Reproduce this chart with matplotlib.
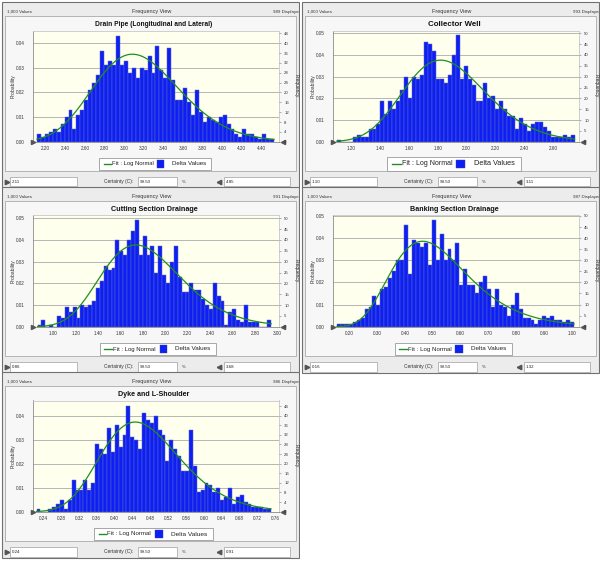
import numpy as np
import matplotlib
matplotlib.use('Agg')
import matplotlib.pyplot as plt
from matplotlib.patches import Rectangle

plt.rcParams['font.family'] = ['Liberation Sans', 'DejaVu Sans']

# ---------------- data ----------------
titles = ['Drain Pipe (Longitudinal and Lateral)', 'Collector Well',
          'Cutting Section Drainage', 'Banking Section Drainage',
          'Dyke and L-Shoulder']
displayed = [989, 993, 991, 987, 986]
trials = 1000
lower_cert = ['2.11', '1.10', '0.86', '0.16', '0.24']
upper_cert = ['4.85', '3.11', '3.68', '1.32', '0.91']
certainty = '99.50'

drain_counts = [3, 2, 3, 4, 5, 4, 7, 10, 13, 5, 11, 13, 17, 21, 24, 27, 37, 31, 33, 31,
                43, 31, 33, 28, 30, 26, 30, 29, 35, 28, 39, 29, 26, 38, 25, 17, 17, 22, 16, 11,
                21, 12, 8, 10, 9, 8, 10, 11, 7, 5, 3, 2, 5, 3, 3, 2, 1, 3, 1, 1]
collector_counts = [1, 0, 0, 0, 2, 3, 2, 2, 6, 6, 8, 19, 13, 19, 15, 19, 24, 30, 20, 30,
                    29, 31, 46, 45, 42, 29, 29, 27, 31, 40, 49, 29, 35, 29, 26, 19, 19, 27, 20, 21,
                    15, 19, 15, 12, 12, 6, 11, 8, 5, 8, 9, 9, 7, 5, 2, 2, 2, 3, 2, 3]
cutting_counts = [1, 3, 0, 1, 0, 5, 4, 9, 7, 9, 4, 10, 9, 10, 12, 18, 21, 28, 26, 27,
                  40, 35, 33, 40, 44, 49, 33, 42, 33, 37, 25, 37, 24, 20, 30, 37, 23, 16, 16, 20,
                  17, 17, 13, 10, 8, 20, 14, 12, 1, 7, 8, 3, 2, 10, 2, 2, 2, 0, 0, 3]
banking_counts = [1, 1, 1, 1, 2, 3, 4, 8, 9, 14, 10, 17, 18, 22, 25, 30, 30, 46, 24, 39,
                  38, 36, 38, 28, 48, 30, 42, 30, 35, 30, 38, 19, 26, 19, 19, 15, 20, 23, 17, 9,
                  17, 10, 9, 5, 10, 15, 8, 4, 4, 3, 1, 3, 5, 4, 5, 3, 3, 2, 3, 2]
dyke_counts = [1, 0, 0, 1, 2, 3, 5, 1, 5, 13, 9, 9, 13, 9, 12, 28, 26, 24, 35, 25,
               36, 27, 32, 44, 31, 30, 26, 41, 38, 37, 40, 34, 32, 21, 30, 26, 23, 17, 17, 34,
               19, 8, 9, 12, 11, 8, 10, 5, 6, 10, 3, 6, 7, 4, 3, 2, 2, 2, 1, 1]
counts_all = [drain_counts, collector_counts, cutting_counts, banking_counts, dyke_counts]

# histogram value ranges (first bin start, last bin end)
bin_low = [2.11, 1.10, 0.86, 0.155, 0.225]
bin_high = [4.53, 2.75, 2.945, 1.008, 0.750]

# axis ranges and ticks
x_min = [2.07, 1.073, 0.819, 0.141, 0.217]
x_max = [4.581, 2.781, 3.015, 1.026, 0.768]
x_ticks = [
    [2.20, 2.40, 2.60, 2.80, 3.00, 3.20, 3.40, 3.60, 3.80, 4.00, 4.20, 4.40],
    [1.20, 1.40, 1.60, 1.80, 2.00, 2.20, 2.40, 2.60],
    [1.00, 1.20, 1.40, 1.60, 1.80, 2.00, 2.20, 2.40, 2.60, 2.80, 3.00],
    [0.20, 0.30, 0.40, 0.50, 0.60, 0.70, 0.80, 0.90, 1.00],
    [0.24, 0.28, 0.32, 0.36, 0.40, 0.44, 0.48, 0.52, 0.56, 0.60, 0.64, 0.68, 0.72, 0.76],
]
prob_ticks = [
    [0.00, 0.01, 0.02, 0.03, 0.04],
    [0.00, 0.01, 0.02, 0.03, 0.04, 0.05],
    [0.00, 0.01, 0.02, 0.03, 0.04, 0.05],
    [0.00, 0.01, 0.02, 0.03, 0.04, 0.05],
    [0.00, 0.01, 0.02, 0.03, 0.04],
]
freq_ticks = [
    list(range(0, 45, 4)),
    list(range(0, 51, 5)),
    list(range(0, 51, 5)),
    list(range(0, 51, 5)),
    list(range(0, 45, 4)),
]
y_top = [0.0452, 0.0513, 0.0513, 0.0502, 0.0463]

# ---------------- layout ----------------
FW, FH = 600, 561
origins = [(0, 0), (300, 0), (0, 185), (300, 185), (0, 370)]
title_size = [4.8, 5.7, 5.2, 5.1, 5.1]
legend_scale = [1.0, 1.2, 1.04, 1.05, 1.06]
legend_cx = [155, 154, 158, 153.5, 153.5]

BAR_COLOR = '#0e1ff2'
BAR_EDGE = '#5b67c9'
FIT_COLOR = '#1f8f1f'
PLOT_BG = '#ffffee'


def frect(x, y, w, h):
    return [x / FW, 1 - (y + h) / FH, w / FW, h / FH]


fig = plt.figure(figsize=(FW / 100, FH / 100), dpi=100)
fig.patch.set_facecolor('white')

for k in range(5):
    ox, oy = origins[k]
    # ---- window background ----
    bg = fig.add_axes(frect(ox, oy, 300, 190))
    bg.set_xlim(0, 300)
    bg.set_ylim(190, 0)
    bg.set_axis_off()
    frame = Rectangle((1.5, 1.5), 297, 186.5, facecolor='#ececec',
                      edgecolor='#707070', lw=0.8)
    bg.add_patch(frame)
    bg.add_patch(Rectangle((5, 16), 291, 155, facecolor='#f7f7f7',
                           edgecolor='#aaaaaa', lw=0.6))
    bg.text(7, 11.5, '1,000 Values', fontsize=3.2, va='center', ha='left', color='#333333')
    bg.text(152, 11, 'Frequency View', fontsize=4.0, va='center', ha='center', color='#333333')
    t = bg.text(273, 11.5, f'{displayed[k]} Displayed', fontsize=3.2, va='center', ha='left',
                color='#333333', clip_on=True)
    t.set_clip_path(frame)
    bg.text(154, 24, titles[k], fontsize=title_size[k], fontweight='bold',
            ha='center', va='center', color='#111111')

    # legend
    s = legend_scale[k]
    cx, cy = legend_cx[k], 164
    lw_, lh_ = 112 * s, 11.7 * s
    bg.add_patch(Rectangle((cx - lw_ / 2, cy - lh_ / 2), lw_, lh_, facecolor='white',
                           edgecolor='#999999', lw=0.6))
    x0 = cx - lw_ / 2
    bg.plot([x0 + 4.5 * s, x0 + 11.5 * s], [cy, cy], color=FIT_COLOR, lw=1.0)
    bg.text(x0 + 12.5 * s, cy, 'Fit : Log Normal', fontsize=4.2 * s, va='center', ha='left',
            color='#222222')
    bg.add_patch(Rectangle((x0 + 57.5 * s, cy - 3.6 * s), 7.3 * s, 7.3 * s,
                           facecolor=BAR_COLOR, edgecolor='#3a45b0', lw=0.3))
    bg.text(x0 + 72.5 * s, cy, 'Delta Values', fontsize=4.4 * s, va='center', ha='left',
            color='#222222')

    # bottom row
    by = 181.7
    bg.plot(6.5, by, marker='>', ms=3.2, color='#555555')
    bg.add_patch(Rectangle((10, 177), 67, 9.5, facecolor='white', edgecolor='#a0a0a0', lw=0.5))
    bg.text(12, by, lower_cert[k], fontsize=3.2, va='center', ha='left', color='#222222')
    bg.text(119, by, 'Certainty (C):', fontsize=3.5, va='center', ha='center', color='#333333')
    bg.add_patch(Rectangle((138, 177), 39, 9.5, facecolor='white', edgecolor='#a0a0a0', lw=0.5))
    bg.text(140, by, certainty, fontsize=3.2, va='center', ha='left', color='#222222')
    bg.text(184, by, '%', fontsize=3.2, va='center', ha='center', color='#333333')
    bg.plot(218.5, by, marker='<', ms=3.2, color='#555555')
    bg.add_patch(Rectangle((224, 177), 66, 9.5, facecolor='white', edgecolor='#a0a0a0', lw=0.5))
    bg.text(226, by, upper_cert[k], fontsize=3.2, va='center', ha='left', color='#222222')
    # right grabber of chart
    bg.plot(282.5, 141.7, marker='<', ms=3.0, color='#555555', clip_on=False)

    # ---- chart ----
    ax = fig.add_axes(frect(ox + 33, oy + 30.5, 246, 111.2))
    ax.set_facecolor(PLOT_BG)
    counts = np.array(counts_all[k], dtype=float)
    edges = np.linspace(bin_low[k], bin_high[k], len(counts) + 1)
    centers = 0.5 * (edges[:-1] + edges[1:])
    bw = edges[1] - edges[0]
    probs = counts / trials
    ax.bar(centers, probs, width=bw, color=BAR_COLOR, edgecolor=BAR_EDGE,
           linewidth=0.35, zorder=2)

    # log-normal fit from the histogram
    lc = np.log(centers)
    mu = np.sum(counts * lc) / counts.sum()
    sig = np.sqrt(np.sum(counts * (lc - mu) ** 2) / counts.sum())
    xs = np.linspace(bin_low[k], bin_high[k], 300)
    pdf = np.exp(-(np.log(xs) - mu) ** 2 / (2 * sig ** 2)) / (xs * sig * np.sqrt(2 * np.pi))
    ax.plot(xs, pdf * bw * counts.sum() / trials, color=FIT_COLOR, lw=0.9, zorder=3)

    ax.set_xlim(x_min[k], x_max[k])
    ax.set_ylim(0, y_top[k])
    ax.set_yticks(prob_ticks[k])
    ax.set_yticklabels([f'{v:.2f}' for v in prob_ticks[k]])
    ax.set_xticks(x_ticks[k])
    ax.set_xticklabels([f'{v:.2f}' for v in x_ticks[k]])
    ax.yaxis.grid(True, color='#a9a9a9', lw=0.6, zorder=0)
    ax.set_axisbelow(True)
    ax.tick_params(axis='y', length=0, labelsize=3.3, pad=6, colors='#333333')
    ax.tick_params(axis='x', length=0, labelsize=3.3, pad=3.2, colors='#333333')
    for sp in ['left', 'bottom']:
        ax.spines[sp].set_color('#8a8a8a')
        ax.spines[sp].set_linewidth(0.6)
    for sp in ['top', 'right']:
        ax.spines[sp].set_color('#c8c8c8')
        ax.spines[sp].set_linewidth(0.6)
    ax.set_ylabel('Probability', fontsize=3.6, color='#333333', va='center', ha='center')
    ax.yaxis.set_label_coords(-0.080, 0.5)
    ax.plot([x_min[k]], [0], marker='>', ms=3.0, color='#555555', clip_on=False, zorder=4)

    ax2 = ax.twinx()
    ax2.set_ylim(0, y_top[k] * trials)
    ax2.set_yticks(freq_ticks[k])
    ax2.set_yticklabels([str(v) for v in freq_ticks[k]])
    ax2.tick_params(axis='y', length=1.5, width=0.4, color='#777777', labelsize=3.1,
                    pad=2.3, labelcolor='#333333')
    for sp in ax2.spines.values():
        sp.set_visible(False)
    ax2.set_ylabel('Frequency', fontsize=3.5, rotation=270, color='#333333',
                   va='center', ha='center')
    ax2.yaxis.set_label_coords(1.07, 0.5)

fig.savefig('out.png', dpi=100, facecolor='white')
